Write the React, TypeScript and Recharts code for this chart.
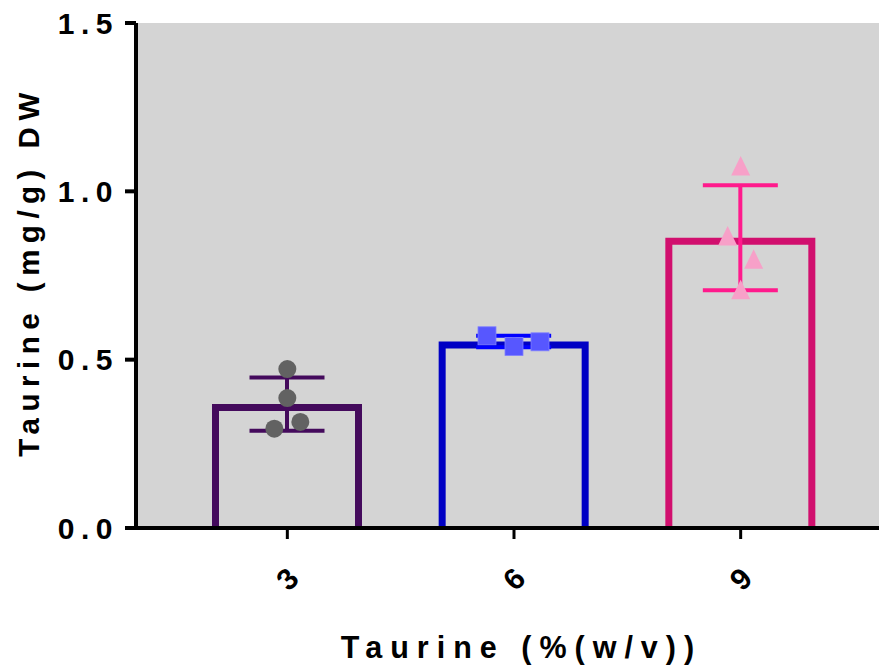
import React from 'react'
import {
  ComposedChart,
  Bar,
  ErrorBar,
  Scatter,
  XAxis,
  YAxis,
  CartesianGrid,
} from 'recharts'

// taurine concentration in medium (% w/v)
const doses = ['3', '6', '9']
// taurine content, mg/g DW
const means = [0.368, 0.554, 0.862]
const sds = [0.079, 0.017, 0.156]
const replicates = [
  [0.472, 0.386, 0.315, 0.295],
  [0.571, 0.539, 0.553],
  [1.075, 0.867, 0.798, 0.708],
]
const yTicks = [0, 0.5, 1.0, 1.5]

// horizontal scatter of the replicate points, px
const jitter = [
  [0, 0, 13, -13],
  [-27, 0, 26],
  [0, -13, 13, 0],
]

const barColors = ['#440a5c', '#0000c4', '#d10f6e']
const errColors = ['#440a5c', '#0000ff', '#ff1a8c']
const dotColors = ['#626262', '#5757ff', '#f7a0c8']

const FONT = '"Liberation Sans", Arial, sans-serif'

const rows = doses.map((dose, i) => {
  const row: Record<string, any> = { dose, g: i }
  row['m' + i] = means[i]
  row['e' + i] = sds[i]
  replicates[i].forEach((v, k) => {
    row['r' + k] = v
  })
  return row
})

const OpenBar = (props: any) => {
  const { x, y, width, height, fill } = props
  if (!(height > 0)) return null
  const sw = 7
  const l = x + sw / 2
  const r = x + width - sw / 2
  const t = y + sw / 2
  const b = y + height - 2
  return (
    <path
      d={`M${l},${b} L${l},${t} L${r},${t} L${r},${b}`}
      fill="none"
      stroke={fill}
      strokeWidth={sw}
      strokeLinejoin="miter"
    />
  )
}

const makeDot = (k: number) => (props: any) => {
  const { cx, cy, payload } = props
  if (!payload || payload['r' + k] == null || !isFinite(cy)) return null
  const g = payload.g
  const x = cx + (jitter[g][k] ?? 0)
  const c = dotColors[g]
  if (g === 0) return <circle cx={x} cy={cy} r={9} fill={c} />
  if (g === 1)
    return <rect x={x - 9} y={cy - 9} width={18} height={18} fill={c} stroke="#8080ff" strokeWidth={0.8} />
  return (
    <path d={`M${x},${cy - 10} L${x + 9.5},${cy + 9.5} L${x - 9.5},${cy + 9.5} Z`} fill={c} />
  )
}

const YTick = ({ x, y, payload }: any) => (
  <text
    x={x}
    y={y}
    textAnchor="end"
    dominantBaseline="central"
    fontFamily={FONT}
    fontWeight={700}
    fontSize={30}
    letterSpacing={6.5}
    fill="#000"
  >
    {Number(payload.value).toFixed(1)}
  </text>
)

const XTick = ({ x, y, payload }: any) => (
  <text
    x={x}
    y={y + 38}
    transform={`rotate(-45, ${x}, ${y + 38})`}
    textAnchor="middle"
    dominantBaseline="central"
    fontFamily={FONT}
    fontWeight={700}
    fontSize={30}
    fill="#000"
  >
    {payload.value}
  </text>
)

export default function App() {
  return (
    <div style={{ position: 'absolute', left: 0, top: 0, background: '#fff' }}>
      <ComposedChart
        width={879}
        height={666}
        data={rows}
        margin={{ top: 23, right: 0, left: 0, bottom: 0 }}
      >
        <CartesianGrid fill="#d4d4d4" stroke="none" horizontal={false} vertical={false} />
        <XAxis
          dataKey="dose"
          type="category"
          padding={{ left: 38, right: 25 }}
          height={138}
          axisLine={{ stroke: '#000', strokeWidth: 4 }}
          tickLine={{ stroke: '#000', strokeWidth: 3 }}
          tickSize={11}
          tick={<XTick />}
          label={{
            content: ({ viewBox }: any) => (
              <text
                x={viewBox.x + viewBox.width / 2 + 14}
                y={658}
                textAnchor="middle"
                fontFamily={FONT}
                fontWeight={700}
                fontSize={30.5}
                letterSpacing={8}
                fill="#000"
              >
                Taurine (%(w/v))
              </text>
            ),
          }}
        />
        <YAxis
          type="number"
          domain={[0, 1.5]}
          ticks={yTicks}
          width={136}
          axisLine={{ stroke: '#000', strokeWidth: 4 }}
          tickLine={{ stroke: '#000', strokeWidth: 4 }}
          tickSize={11}
          tickMargin={6}
          tick={<YTick />}
          label={{
            content: ({ viewBox }: any) => {
              const cy = viewBox.y + viewBox.height / 2 - 4
              return (
                <text
                  x={39}
                  y={cy}
                  transform={`rotate(-90, 39, ${cy})`}
                  textAnchor="middle"
                  fontFamily={FONT}
                  fontWeight={700}
                  fontSize={29.5}
                  letterSpacing={6.5}
                  fill="#000"
                >
                  Taurine (mg/g) DW
                </text>
              )
            },
          }}
        />
        {doses.map((d, i) => (
          <Bar
            key={'bar' + d}
            dataKey={'m' + i}
            stackId="g"
            barSize={150}
            fill={barColors[i]}
            shape={<OpenBar />}
            isAnimationActive={false}
          >
            <ErrorBar
              dataKey={'e' + i}
              width={37.5}
              stroke={errColors[i]}
              strokeWidth={4}
              direction="y"
            />
          </Bar>
        ))}
        {[0, 1, 2, 3].map((k) => (
          <Scatter
            key={'rep' + k}
            dataKey={'r' + k}
            shape={makeDot(k)}
            isAnimationActive={false}
          />
        ))}
      </ComposedChart>
    </div>
  )
}
